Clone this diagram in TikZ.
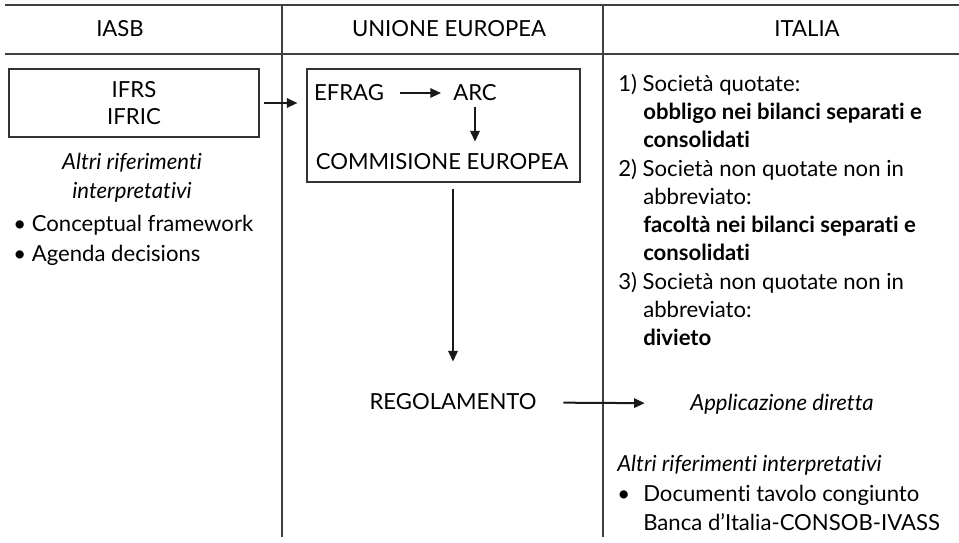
\documentclass[tikz,border=0pt]{standalone}
\usepackage{fontspec}
\setmainfont{Lato}[Ligatures=NoCommon]
\usetikzlibrary{arrows.meta,positioning}

\tikzset{
  txt/.style={font=\fontsize{16.6}{21.2}\selectfont, inner sep=0pt, text=black},
  box/.style={draw=black!80, line width=0.8pt, inner sep=0pt},
  rule/.style={draw=black!75, line width=0.8pt},
  arr/.style={-{Triangle[length=8pt,width=7pt]}, line width=1.5pt, black!90},
}
\newcommand{\ind}{\hspace*{18.75pt}}

\begin{document}
\begin{tikzpicture}[x=0.75pt,y=-0.75pt]
  \useasboundingbox (0,0) rectangle (959,542);

  % table rules
  \draw[rule] (5,5) -- (959,5);
  \draw[rule] (5,54) -- (959,54);
  \draw[rule] (282,5) -- (282,537);
  \draw[rule] (603,5) -- (603,537);

  % headers
  \node[txt] (iasb) at (120,29) {IASB};
  \node[txt] (ue) at (449,29) {UNIONE EUROPEA};
  \node[txt] (ita) at (807,29) {ITALIA};

  % IASB column
  \node[box, txt, align=center, minimum width=187.5pt, minimum height=51pt] (ifrs) at (134,103) {IFRS\\[-1pt]IFRIC};
  \node[txt, align=center, font=\fontsize{16.6}{22}\selectfont\itshape] (altri) at (132,178) {Altri riferimenti\\interpretativi};
  \node[txt, align=left, anchor=west, font=\fontsize{16.6}{22.5}\selectfont] (bul) at (13,240) {• Conceptual framework\\• Agenda decisions};

  % UE column
  \node[box, minimum width=204.75pt, minimum height=84.75pt] (efragbox) at (443.5,125.5) {};
  \node[txt] (efrag) at (349,93) {EFRAG};
  \node[txt] (arc) at (475,93) {ARC};
  \node[txt] (comm) at (442,162) {COMMISIONE EUROPEA};
  \node[txt] (regol) at (453,402) {REGOLAMENTO};

  \draw[arr, shorten <=12pt, shorten >=9pt] (efrag) -- (arc);
  \draw[arr, shorten <=3pt, shorten >=6.75pt] (ifrs) -- (ifrs -| efragbox.west);
  \draw[arr, shorten <=4.5pt, shorten >=9pt] (arc) -- (arc |- comm.north);
  \draw[arr, shorten <=5pt, shorten >=24pt] (efragbox.south -| regol) -- (regol);

  % ITALIA column
  \node[txt, align=left, anchor=west] (casi) at (618,210) {%
    1) Società quotate:\\
    \ind\textbf{obbligo nei bilanci separati e}\\
    \ind\textbf{consolidati}\\
    2) Società non quotate non in\\
    \ind abbreviato:\\
    \ind\textbf{facoltà nei bilanci separati e}\\
    \ind\textbf{consolidati}\\
    3) Società non quotate non in\\
    \ind abbreviato:\\
    \ind\textbf{divieto}};
  \node[txt, font=\fontsize{16.6}{21.2}\selectfont\itshape] (appl) at (782,404) {Applicazione diretta};
  \node[txt, anchor=west, font=\fontsize{16.6}{21.2}\selectfont\itshape] (altrib) at (617,465) {Altri riferimenti interpretativi};
  \node[txt, align=left, anchor=west] (doc) at (617,508) {\makebox[19.5pt][l]{•}Documenti tavolo congiunto\\\hspace*{19.5pt}Banca d’Italia-CONSOB-IVASS};

  \draw[arr, shorten <=20pt, shorten >=34pt] (regol) -- (appl);
\end{tikzpicture}
\end{document}
